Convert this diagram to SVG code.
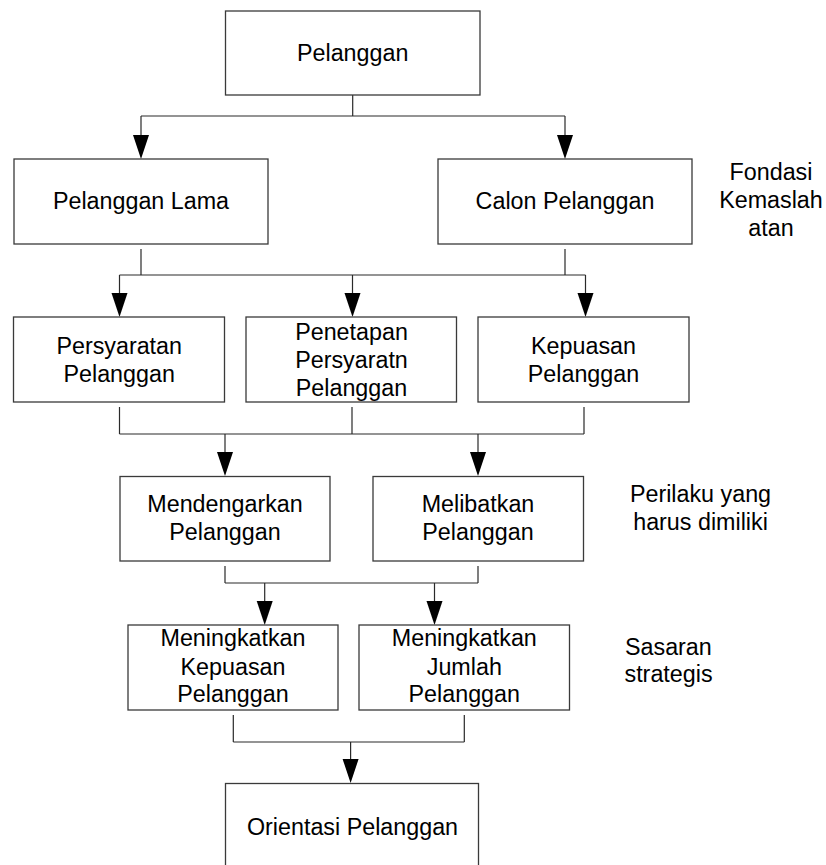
<svg xmlns="http://www.w3.org/2000/svg" width="826" height="865" viewBox="0 0 826 865">
  <defs>
    <style>
      .box { fill: #ffffff; stroke: #3a3a3a; stroke-width: 1.3; }
      .lbl { font-family: "Liberation Sans", Arial, sans-serif; font-size: 23.3px; fill: #000000; text-anchor: middle; }
      .side { font-family: "Liberation Sans", Arial, sans-serif; font-size: 23.3px; fill: #000000; }
      .wire { fill: none; stroke: #2a2a2a; stroke-width: 1.2; }
      .head { fill: #000000; }
    </style>
  </defs>
  <rect x="0" y="0" width="826" height="865" fill="#ffffff"/>

  <!-- connectors -->
  <g id="connectors">
    <path class="wire" d="M352.7,95 V116 M141,116 H565 M141,116 V136 M565,116 V136"/>
    <polygon class="head" points="133,135 149,135 141,159"/>
    <polygon class="head" points="557,135 573,135 565,159"/>

    <path class="wire" d="M141,249 V275 M565,249 V275 M119.5,275 H585.5 M119.5,275 V294 M352.5,275 V294 M585.5,275 V294"/>
    <polygon class="head" points="111.5,293 127.5,293 119.5,317"/>
    <polygon class="head" points="344.5,293 360.5,293 352.5,317"/>
    <polygon class="head" points="577.5,293 593.5,293 585.5,317"/>

    <path class="wire" d="M119.5,407 V434 M352,407 V434 M584,407 V434 M119.5,434 H584 M225,434 V453 M478,434 V453"/>
    <polygon class="head" points="217,452 233,452 225,476"/>
    <polygon class="head" points="470,452 486,452 478,476"/>

    <path class="wire" d="M225,566 V583 M478,566 V583 M225,583 H478 M264.7,583 V602 M434.5,583 V602"/>
    <polygon class="head" points="256.7,601 272.7,601 264.7,625"/>
    <polygon class="head" points="426.5,601 442.5,601 434.5,625"/>

    <path class="wire" d="M233.3,715 V742 M464.3,715 V742 M233.3,742 H464.3 M350.6,742 V760"/>
    <polygon class="head" points="342.6,759 358.6,759 350.6,783"/>
  </g>

  <!-- level 1 -->
  <g id="pelanggan">
    <rect class="box" x="225.5" y="11" width="254.5" height="84"/>
    <text class="lbl" x="352.7" y="60.5">Pelanggan</text>
  </g>

  <!-- level 2 -->
  <g id="pelanggan-lama">
    <rect class="box" x="14" y="159" width="254" height="85"/>
    <text class="lbl" x="141" y="209.3">Pelanggan Lama</text>
  </g>
  <g id="calon-pelanggan">
    <rect class="box" x="438" y="159" width="254" height="85"/>
    <text class="lbl" x="565" y="209.3">Calon Pelanggan</text>
  </g>

  <!-- level 3 -->
  <g id="persyaratan-pelanggan">
    <rect class="box" x="13.5" y="317" width="211" height="85"/>
    <text class="lbl" x="119.2" y="353.5">Persyaratan</text>
    <text class="lbl" x="119.2" y="382">Pelanggan</text>
  </g>
  <g id="penetapan-persyaratn">
    <rect class="box" x="246" y="317" width="210.5" height="85"/>
    <text class="lbl" x="351.5" y="339.5">Penetapan</text>
    <text class="lbl" x="351.5" y="368">Persyaratn</text>
    <text class="lbl" x="351.5" y="396.3">Pelanggan</text>
  </g>
  <g id="kepuasan-pelanggan">
    <rect class="box" x="478" y="317" width="211" height="85"/>
    <text class="lbl" x="583.5" y="353.5">Kepuasan</text>
    <text class="lbl" x="583.5" y="382">Pelanggan</text>
  </g>

  <!-- level 4 -->
  <g id="mendengarkan-pelanggan">
    <rect class="box" x="120" y="476.5" width="210" height="84.5"/>
    <text class="lbl" x="225" y="512">Mendengarkan</text>
    <text class="lbl" x="225" y="539.7">Pelanggan</text>
  </g>
  <g id="melibatkan-pelanggan">
    <rect class="box" x="373" y="476.5" width="210.5" height="84.5"/>
    <text class="lbl" x="478" y="512">Melibatkan</text>
    <text class="lbl" x="478" y="539.7">Pelanggan</text>
  </g>

  <!-- level 5 -->
  <g id="meningkatkan-kepuasan">
    <rect class="box" x="128" y="625" width="210" height="85"/>
    <text class="lbl" x="233" y="646.3">Meningkatkan</text>
    <text class="lbl" x="233" y="674.5">Kepuasan</text>
    <text class="lbl" x="233" y="702.2">Pelanggan</text>
  </g>
  <g id="meningkatkan-jumlah">
    <rect class="box" x="359" y="625" width="210.5" height="85"/>
    <text class="lbl" x="464.3" y="646.3">Meningkatkan</text>
    <text class="lbl" x="464.3" y="674.5">Jumlah</text>
    <text class="lbl" x="464.3" y="702.2">Pelanggan</text>
  </g>

  <!-- level 6 -->
  <g id="orientasi-pelanggan">
    <rect class="box" x="225.5" y="783.5" width="253" height="100"/>
    <text class="lbl" x="352.5" y="835">Orientasi Pelanggan</text>
  </g>

  <!-- side notes -->
  <g id="note-fondasi">
    <text class="lbl" x="771" y="180">Fondasi</text>
    <text class="lbl" x="771" y="208">Kemaslah</text>
    <text class="lbl" x="771" y="235.5">atan</text>
  </g>
  <g id="note-perilaku">
    <text class="lbl" x="700.5" y="502">Perilaku yang</text>
    <text class="lbl" x="700.5" y="530">harus dimiliki</text>
  </g>
  <g id="note-sasaran">
    <text class="side" x="625" y="655">Sasaran</text>
    <text class="side" x="624.5" y="682">strategis</text>
  </g>
</svg>
